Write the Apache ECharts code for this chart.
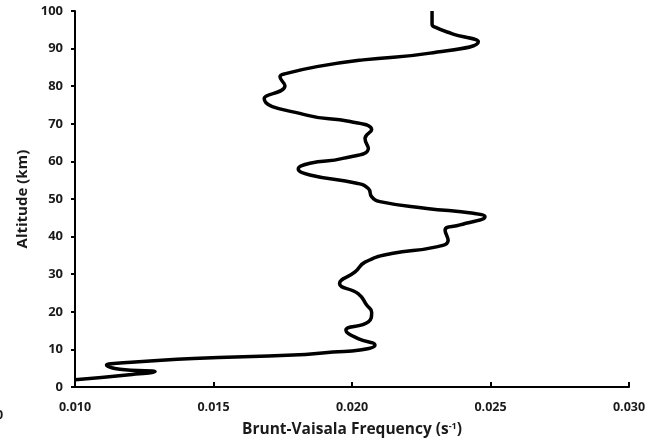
<!DOCTYPE html>
<html>
<head>
<meta charset="utf-8">
<script src="https://cdn.jsdelivr.net/npm/echarts@6/dist/echarts.min.js"></script>
<style>html,body{margin:0;padding:0;background:#fff;}#chart{width:650px;height:445px;}</style>
</head>
<body>
<div id="chart"></div>
<script>
// Brunt-Vaisala frequency (s^-1) vs altitude (km)
const frequency = [0.0100,0.01187,0.01289,0.01162,0.01114,0.01151,0.01427,0.01788,0.01931,0.02029,0.02083,0.02022,0.01978,0.02059,0.02071,0.02053,0.02023,0.01955,0.02011,0.02047,0.02143,0.02300,0.02347,0.02336,0.02390,0.02480,0.02438,0.02270,0.02101,0.02071,0.02059,0.02017,0.01848,0.01806,0.01848,0.01967,0.02059,0.02047,0.02071,0.01993,0.01836,0.01683,0.01758,0.01740,0.01764,0.01873,0.02040,0.02282,0.02456,0.02360,0.02300,0.02289,0.02289];
const altitude  = [1.9,3.2,4.1,4.7,5.85,6.3,7.6,8.5,9.3,9.85,11.2,12.85,15.1,17.3,19.9,21.8,24.8,27.5,30.6,33.2,35.5,37.2,39.0,41.7,43.1,45.3,46.2,47.5,49.3,50.6,52.8,54.2,56.4,58.0,59.5,60.8,63.5,66.1,68.4,70.6,72.3,76.7,80.1,82.5,83.4,85.2,87.0,88.8,91.8,94.0,95.7,96.5,100];
const xTicks = [0.010,0.015,0.020,0.025,0.030];
const yTicks = [0,10,20,30,40,50,60,70,80,90,100];

const chart = echarts.init(document.getElementById('chart'));
const font = 'Open Sans';
chart.setOption({
  animation: false,
  grid: {left: 75, right: 21, top: 11, bottom: 58, containLabel: false},
  xAxis: {
    type: 'value', min: xTicks[0], max: xTicks[xTicks.length-1], interval: 0.005,
    name: 'Brunt-Vaisala Frequency (s{sup|-1})', nameLocation: 'middle', nameGap: 35,
    nameTextStyle: {fontFamily: font, fontWeight: 'bold', fontSize: 15.5, color: '#1a1a1a',
      rich: {sup: {fontFamily: font, fontWeight: 'bold', fontSize: 9, color: '#1a1a1a', verticalAlign: 'top', padding: [0,0,7,0]}}},
    axisLine: {show: true, lineStyle: {color: '#000', width: 2}},
    axisTick: {show: true, inside: true, length: 5, lineStyle: {color: '#000', width: 2}},
    axisLabel: {fontFamily: font, fontWeight: 'bold', fontSize: 12.5, color: '#1a1a1a', margin: 14,
      formatter: v => v.toFixed(3)},
    splitLine: {show: false}
  },
  yAxis: {
    type: 'value', min: 0, max: 100, interval: 10,
    name: 'Altitude (km)', nameLocation: 'middle', nameGap: 38,
    nameTextStyle: {fontFamily: font, fontWeight: 'bold', fontSize: 15, color: '#1a1a1a'},
    axisLine: {show: true, lineStyle: {color: '#000', width: 2}},
    axisTick: {show: true, inside: false, length: 4, lineStyle: {color: '#000', width: 2}},
    axisLabel: {fontFamily: font, fontWeight: 'bold', fontSize: 13, color: '#1a1a1a', margin: 12},
    splitLine: {show: false}
  },
  graphic: [{type: 'text', left: -4, top: 409, style: {text: '0', fontFamily: font, fontWeight: 'bold', fontSize: 12.5, fill: '#1a1a1a'}}],
  series: [{
    type: 'line', smooth: 0.5, symbol: 'none',
    lineStyle: {color: '#000', width: 3.5},
    data: frequency.map((f, i) => [f, altitude[i]])
  }]
});
</script>
</body>
</html>
